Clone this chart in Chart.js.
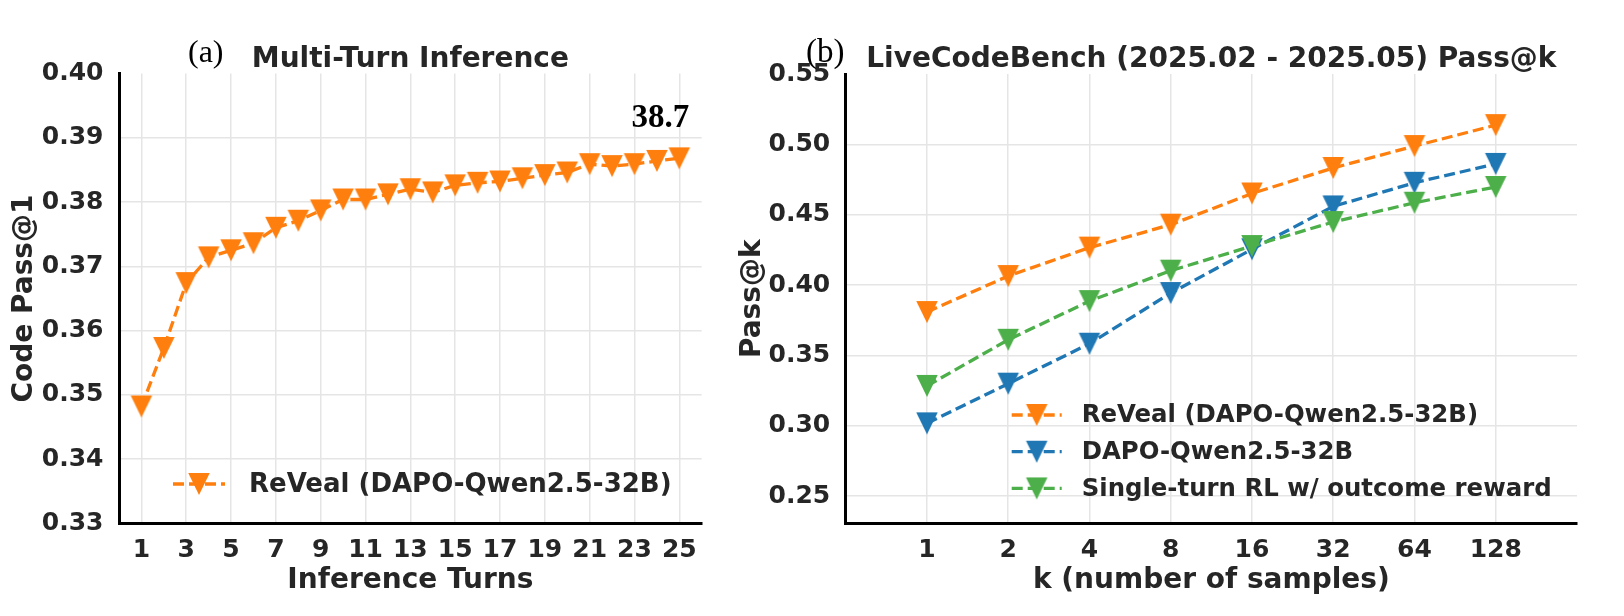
<!DOCTYPE html>
<html><head><meta charset="utf-8">
<script src="https://cdn.jsdelivr.net/npm/chart.js@4.4.1/dist/chart.umd.min.js"></script>
<style>
html,body{margin:0;padding:0;background:#fff;width:1624px;height:616px;overflow:hidden;}
#c1{position:absolute;left:0;top:0;}
#c2{position:absolute;left:715px;top:0;}
</style></head><body>
<canvas id="c1" width="715" height="616"></canvas>
<canvas id="c2" width="909" height="616"></canvas>
<script>
// ---------- data: panel (a) ----------
const turns = [1,2,3,4,5,6,7,8,9,10,11,12,13,14,15,16,17,18,19,20,21,22,23,24,25];
const revealMultiTurn = [0.3482,0.3573,0.3674,0.3714,0.3725,0.3736,0.3760,0.3771,0.3787,0.3804,0.3804,0.3812,0.3820,0.3815,0.3826,0.3830,0.3832,0.3837,0.3842,0.3846,0.3859,0.3856,0.3859,0.3864,0.3868];
const turnTicks = [1,3,5,7,9,11,13,15,17,19,21,23,25];
const passAt1Ticks = [0.33,0.34,0.35,0.36,0.37,0.38,0.39,0.40];

// ---------- data: panel (b) ----------
const kValues = [1,2,4,8,16,32,64,128];
const kTickLabels = ['1','2','4','8','16','32','64','128'];
const revealPassK = [0.3808,0.4064,0.4266,0.4429,0.4651,0.4832,0.4988,0.5137];
const dapoPassK = [0.3017,0.3299,0.3583,0.3943,0.4254,0.4559,0.4727,0.4861];
const singleTurnPassK = [0.3283,0.3611,0.3886,0.4102,0.4277,0.4448,0.4585,0.4697];
const passKTicks = [0.25,0.30,0.35,0.40,0.45,0.50,0.55];
const seriesLabels = ['ReVeal (DAPO-Qwen2.5-32B)','DAPO-Qwen2.5-32B','Single-turn RL w/ outcome reward'];

// ---------- style ----------
const ORANGE = '#ff7f0e', BLUE = '#1f77b4', GREEN = '#4daf4a';
const TEXT = '#262626', GRID = '#e5e5e5';
const SANS = '"DejaVu Sans", sans-serif';
const SERIF = '"Liberation Serif", "Times New Roman", serif';
const LW = 3.3, DASH = [11, 5];

function triCanvas(color){
  const w = 21.5, h = 22, pad = 2;
  const c = document.createElement('canvas');
  c.width = Math.ceil(w + pad*2); c.height = Math.ceil(h + pad*2);
  const ox = (c.width - w) / 2, oy = (c.height - h) / 2;
  const g = c.getContext('2d');
  g.fillStyle = color;
  g.beginPath(); g.moveTo(ox, oy); g.lineTo(ox + w, oy); g.lineTo(ox + w/2, oy + h); g.closePath(); g.fill();
  return c;
}

function lineDataset(label, xs, ys, color, order){
  return {
    label, order,
    data: xs.map((x, i) => ({x, y: ys[i]})),
    borderColor: color, backgroundColor: color,
    borderWidth: LW, borderDash: DASH,
    pointStyle: triCanvas(color), pointRadius: 10, pointHoverRadius: 10,
    tension: 0, fill: false
  };
}

const decor = {
  id: 'decor',
  afterDraw(chart, args, o){
    const ctx = chart.ctx, a = chart.chartArea;
    const cx = (a.left + a.right) / 2, cy = (a.top + a.bottom) / 2;
    ctx.save();
    ctx.fillStyle = TEXT;
    ctx.textBaseline = 'alphabetic';
    // title
    ctx.font = 'bold 28px ' + SANS; ctx.textAlign = 'center';
    ctx.fillText(o.title, cx, o.titleY);
    // x title
    ctx.fillText(o.xTitle, cx, o.xTitleY);
    // y title
    ctx.save(); ctx.translate(o.yTitleX, cy); ctx.rotate(-Math.PI/2);
    ctx.fillText(o.yTitle, 0, 0); ctx.restore();
    // panel tag
    ctx.fillStyle = '#000';
    ctx.font = o.tagFont; ctx.textAlign = 'left';
    ctx.fillText(o.tag, o.tagX, o.tagY);
    // legend
    const L = o.legend;
    L.items.forEach((di, r) => {
      const ds = chart.data.datasets[di];
      const y = L.y0 + r * L.dy;
      ctx.save();
      ctx.strokeStyle = ds.borderColor; ctx.lineWidth = LW; ctx.setLineDash(DASH);
      ctx.beginPath(); ctx.moveTo(L.x, y); ctx.lineTo(L.x + L.len, y); ctx.stroke();
      ctx.restore();
      const img = ds.pointStyle;
      ctx.drawImage(img, L.x + L.len/2 - img.width/2, y - img.height/2);
      ctx.fillStyle = TEXT; ctx.font = L.font; ctx.textAlign = 'left'; ctx.textBaseline = 'middle';
      ctx.fillText(ds.label, L.textX, y + 1);
      ctx.textBaseline = 'alphabetic';
    });
    // end-value annotation
    if (o.annotate) {
      const ds = chart.data.datasets[0];
      const last = ds.data[ds.data.length - 1];
      const px = chart.scales.x.getPixelForValue(last.x), py = chart.scales.y.getPixelForValue(last.y);
      ctx.fillStyle = '#000';
      ctx.font = 'bold 33px ' + SERIF; ctx.textAlign = 'right';
      ctx.fillText((last.y * 100).toFixed(1), px + 10, py - 31);
    }
    ctx.restore();
  }
};

const tickFont = {family: SANS, weight: 'bold', size: 25};
const hideTop = (topVal) => (c) => (c.tick && Math.abs(c.tick.value - topVal) < 1e-9) ? 'rgba(0,0,0,0)' : GRID;

// ---------- chart (a) ----------
new Chart(document.getElementById('c1'), {
  type: 'line',
  data: { datasets: [ lineDataset(seriesLabels[0], turns, revealMultiTurn, ORANGE, 0) ] },
  options: {
    responsive: false, animation: false,
    layout: { padding: { left: 0, top: 73.5, right: 12.5, bottom: 0 } },
    plugins: {
      legend: { display: false }, tooltip: { enabled: false },
      decor: {
        title: 'Multi-Turn Inference', titleY: 67,
        xTitle: 'Inference Turns', xTitleY: 588,
        yTitle: 'Code Pass@1', yTitleX: 31.5,
        tag: '(a)', tagFont: '32px ' + SERIF, tagX: 188, tagY: 62,
        annotate: true,
        legend: { x: 173, len: 52, textX: 249, y0: 484, dy: 0, font: 'bold 26px ' + SANS, items: [0] }
      }
    },
    scales: {
      x: {
        type: 'linear', min: 0, max: 26,
        afterBuildTicks: s => { s.ticks = turnTicks.map(v => ({value: v})); },
        afterFit: s => { s.height = 92.5; },
        grid: { color: GRID, lineWidth: 1.5, drawTicks: false },
        border: { display: true, color: '#000', width: 3 },
        ticks: { font: tickFont, color: TEXT, padding: 12, maxRotation: 0, autoSkip: false,
                 callback: (v, i) => String(turnTicks[i]) }
      },
      y: {
        type: 'linear', min: passAt1Ticks[0], max: passAt1Ticks[passAt1Ticks.length - 1],
        afterBuildTicks: s => { s.ticks = passAt1Ticks.map(v => ({value: v})); },
        afterFit: s => { s.width = 119; },
        grid: { color: hideTop(passAt1Ticks[passAt1Ticks.length - 1]), lineWidth: 1.5, drawTicks: false },
        border: { display: true, color: '#000', width: 3 },
        ticks: { font: tickFont, color: TEXT, padding: 15.5, autoSkip: false,
                 callback: (v, i) => passAt1Ticks[i].toFixed(2) }
      }
    }
  },
  plugins: [decor]
});

// ---------- chart (b) ----------
new Chart(document.getElementById('c2'), {
  type: 'line',
  data: { datasets: [
    lineDataset(seriesLabels[0], kValues, revealPassK, ORANGE, 2),
    lineDataset(seriesLabels[1], kValues, dapoPassK, BLUE, 1),
    lineDataset(seriesLabels[2], kValues, singleTurnPassK, GREEN, 0)
  ] },
  options: {
    responsive: false, animation: false,
    layout: { padding: { left: 0, top: 74, right: 47, bottom: 0 } },
    plugins: {
      legend: { display: false }, tooltip: { enabled: false },
      decor: {
        title: 'LiveCodeBench (2025.02 - 2025.05) Pass@k', titleY: 67,
        xTitle: 'k (number of samples)', xTitleY: 588,
        yTitle: 'Pass@k', yTitleX: 45,
        tag: '(b)', tagFont: '33px ' + SERIF, tagX: 91, tagY: 62,
        annotate: false,
        legend: { x: 296.7, len: 50, textX: 366.7, y0: 415, dy: 36.7, font: 'bold 24.4px ' + SANS, items: [0, 1, 2] }
      }
    },
    scales: {
      x: {
        type: 'logarithmic', min: 0.5, max: 256,
        afterBuildTicks: s => { s.ticks = kValues.map(v => ({value: v})); },
        afterFit: s => { s.height = 92.5; },
        grid: { color: GRID, lineWidth: 1.5, drawTicks: false },
        border: { display: true, color: '#000', width: 3 },
        ticks: { font: tickFont, color: TEXT, padding: 12, maxRotation: 0, autoSkip: false,
                 callback: (v, i) => kTickLabels[i] }
      },
      y: {
        type: 'linear', min: 0.2305, max: passKTicks[passKTicks.length - 1],
        afterBuildTicks: s => { s.ticks = passKTicks.map(v => ({value: v})); },
        afterFit: s => { s.width = 130.7; },
        grid: { color: hideTop(passKTicks[passKTicks.length - 1]), lineWidth: 1.5, drawTicks: false },
        border: { display: true, color: '#000', width: 3 },
        ticks: { font: tickFont, color: TEXT, padding: 15.5, autoSkip: false,
                 callback: (v, i) => passKTicks[i].toFixed(2) }
      }
    }
  },
  plugins: [decor]
});
</script>
</body></html>
